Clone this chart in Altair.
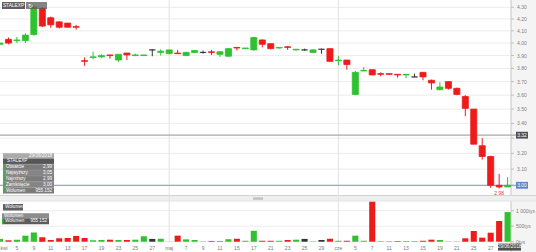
import altair as alt
import pandas as pd

# ------------------------------------------------------------------ data
ticker = "STALEXP"
last_date = "29/06/2018"

opens = [3.99, 4.03, 4.02, 4.02, 4.07, 4.29, 4.21, 4.175, 4.165, 4.135,
         3.86, 3.885, 3.89, 3.905, 3.865, 3.92, 3.90, 3.90, 3.945, 3.925,
         3.915, 3.92, 3.90, 3.925, 3.925, 3.93, 3.91, 3.895, 3.965, 3.955,
         3.945, 4.025, 3.995, 3.96, 3.97, 3.945, 3.945, 3.925, 3.95, 3.955,
         3.86, 3.865, 3.605, 3.78, 3.79, 3.76, 3.76, 3.755, 3.75, 3.735,
         3.77, 3.71, 3.64, 3.70, 3.65, 3.59, 3.50, 3.25, 3.18, 3.00, 2.99]
highs = [4.00, 4.045, 4.05, 4.08, 4.32, 4.30, 4.22, 4.18, 4.165, 4.15,
         3.885, 3.93, 3.91, 3.905, 3.91, 3.92, 3.915, 3.905, 3.95, 3.95,
         3.945, 3.945, 3.93, 3.945, 3.94, 3.945, 3.935, 3.96, 3.965, 3.96,
         4.05, 4.03, 3.995, 3.965, 3.975, 3.95, 3.955, 3.95, 3.955, 3.955,
         3.895, 3.865, 3.78, 3.81, 3.79, 3.77, 3.76, 3.755, 3.755, 3.76,
         3.77, 3.715, 3.695, 3.70, 3.655, 3.60, 3.50, 3.30, 3.185, 3.07, 3.05]
lows = [3.99, 3.99, 4.00, 4.00, 4.06, 4.13, 4.125, 4.12, 4.13, 4.11,
        3.82, 3.87, 3.88, 3.875, 3.85, 3.865, 3.895, 3.90, 3.895, 3.90,
        3.91, 3.915, 3.90, 3.92, 3.915, 3.905, 3.89, 3.89, 3.94, 3.955,
        3.94, 3.965, 3.95, 3.955, 3.945, 3.94, 3.94, 3.92, 3.915, 3.85,
        3.825, 3.79, 3.60, 3.78, 3.75, 3.74, 3.75, 3.73, 3.725, 3.735,
        3.71, 3.64, 3.635, 3.64, 3.60, 3.45, 3.26, 3.16, 2.985, 2.98, 2.99]
closes = [4.00, 4.00, 4.025, 4.065, 4.30, 4.14, 4.15, 4.13, 4.13, 4.13,
          3.855, 3.89, 3.90, 3.90, 3.91, 3.905, 3.905, 3.905, 3.945, 3.935,
          3.945, 3.915, 3.925, 3.94, 3.925, 3.925, 3.93, 3.955, 3.96, 3.96,
          4.045, 3.99, 3.955, 3.965, 3.965, 3.95, 3.945, 3.945, 3.95, 3.855,
          3.865, 3.83, 3.77, 3.785, 3.75, 3.755, 3.755, 3.75, 3.755, 3.735,
          3.735, 3.69, 3.66, 3.65, 3.605, 3.505, 3.26, 3.18, 3.00, 2.99, 3.00]
volumes = [90000, 45000, 65000, 195000, 300000, 140000, 55000, 110000, 120000, 185000,
           120000, 45000, 55000, 65000, 55000, 55000, 65000, 175000, 90000, 95000,
           5000, 195000, 75000, 55000, 5000, 25000, 25000, 80000, 95000, 30000,
           355000, 30000, 30000, 30000, 55000, 65000, 90000, 10000, 55000, 95000,
           30000, 30000, 195000, 30000, 1290000, 10000, 10000, 20000, 20000, 10000,
           30000, 65000, 55000, 5000, 5000, 110000, 345000, 130000, 290000, 668000, 955152]

x_label_idx = [0, 2, 4, 6, 8, 10, 12, 14, 16, 18, 20, 22, 24, 26, 28,
               30, 32, 34, 36, 38, 40, 42, 44, 46, 48, 50, 52, 54, 56, 58]
x_label_txt = ["kwi", "5", "9", "11", "13", "17", "19", "23", "25", "27",
               "maj", "7", "9", "11", "15", "17", "21", "23", "25", "29",
               "cze", "5", "7", "11", "13", "15", "19", "21", "25", "27"]
month_start_idx = [20, 40]
price_ticks = [3.00, 3.10, 3.20, 3.30, 3.40, 3.50, 3.60, 3.70, 3.80, 3.90,
               4.00, 4.10, 4.20, 4.30]
vol_ticks = [0, 500000, 1000000]
ref_price = 3.32
panel_names = ["Otwarcie", "Najwyższy", "Najniższy", "Zamknięcie", "Wolumen"]

# ------------------------------------------------------------------ layout / style
W, H = 536, 252
PX_PER_SESSION = 8.46
HALF_BODY = 0.36
STRIP_X = 511
PRICE_RANGE = [185.3, 7.3]   # pixel rows of 3.00 and 4.30
VOL_RANGE = [241.7, 210.7]   # pixel rows of 0 and 1 000 000
GREEN = "#2fc12f"
RED = "#ee1b1b"
DARK = "#333333"
GRID = "#ececec"
FONT = "Liberation Sans"
AX_TXT = "#808080"

n = len(opens)
df = pd.DataFrame({"i": list(range(n)), "o": opens, "h": highs, "l": lows,
                   "c": closes, "v": volumes})
df["dir"] = ["up" if c > o else ("down" if c < o else "flat")
             for o, c in zip(opens, closes)]
df["xl"] = df["i"] - HALF_BODY
df["xr"] = df["i"] + HALF_BODY
df["base"] = 0

xs = alt.Scale(domain=[0, W / PX_PER_SESSION], nice=False, zero=False)
ps = alt.Scale(type="log", domain=[3.0, 4.3], range=PRICE_RANGE, nice=False)
vs = alt.Scale(domain=[0, 1000000], range=VOL_RANGE, nice=False, zero=False)
cs = alt.Scale(domain=["up", "down", "flat"], range=[GREEN, RED, DARK])


def one():
    return pd.DataFrame({"k": [0]})


def box(x0, x1, y0, y1, fill, opacity=1.0, stroke=None):
    kw = dict(fill=fill, opacity=opacity)
    if stroke:
        kw["stroke"] = stroke
        kw["strokeWidth"] = 0.6
    return alt.Chart(one()).mark_rect(**kw).encode(
        x=alt.value(x0), x2=alt.value(x1), y=alt.value(y0), y2=alt.value(y1))


def label(x, y, text, size=5, color="white", align="left", weight="normal"):
    return alt.Chart(one()).mark_text(
        text=text, fontSize=size, color=color, align=align, baseline="middle",
        fontWeight=weight, font=FONT).encode(x=alt.value(x), y=alt.value(y))


def seg(x0, x1, y0, y1, color, w=1.0):
    return alt.Chart(one()).mark_rule(color=color, strokeWidth=w).encode(
        x=alt.value(x0), x2=alt.value(x1), y=alt.value(y0), y2=alt.value(y1))


layers = []

# right axis strip and pane separator
layers.append(box(STRIP_X, W, 0, H, "#f4f4f4"))
layers.append(seg(STRIP_X, STRIP_X, 0, H, "#c6c6c6"))
layers.append(box(0, W, 195.5, 201, "#efefef"))
layers.append(seg(0, W, 195.5, 195.5, "#d2d2d2"))
layers.append(seg(0, W, 201, 201, "#e2e2e2"))
layers.append(box(253, 263, 197.3, 199.8, "#c2c2c2"))

# price grid (labels hidden behind the price boxes are not drawn)
boxed = {round(ref_price, 1), round(closes[-1], 1)}
tick_df = pd.DataFrame({"p": price_ticks,
                        "t": [f"{p:.2f}" for p in price_ticks],
                        "show": [round(p, 1) not in boxed for p in price_ticks]})
layers.append(alt.Chart(tick_df).mark_rule(color=GRID, strokeWidth=1).encode(
    y=alt.Y("p:Q", scale=ps, axis=None), x=alt.value(0), x2=alt.value(STRIP_X)))
layers.append(alt.Chart(tick_df).mark_rule(color="#b0b0b0", strokeWidth=0.8).encode(
    y=alt.Y("p:Q", scale=ps, axis=None), x=alt.value(STRIP_X), x2=alt.value(STRIP_X + 3)))
layers.append(alt.Chart(tick_df[tick_df["show"]]).mark_text(
    fontSize=5, color=AX_TXT, align="left", baseline="middle", font=FONT).encode(
    y=alt.Y("p:Q", scale=ps, axis=None), x=alt.value(STRIP_X + 6), text="t:N"))

# volume grid
vt_df = pd.DataFrame({"v": vol_ticks,
                      "t": [f"{v // 1000:,}".replace(",", " ") + "tys" for v in vol_ticks]})
layers.append(alt.Chart(vt_df).mark_rule(color=GRID, strokeWidth=1).encode(
    y=alt.Y("v:Q", scale=vs, axis=None), x=alt.value(0), x2=alt.value(STRIP_X)))
layers.append(alt.Chart(vt_df).mark_rule(color="#b0b0b0", strokeWidth=0.8).encode(
    y=alt.Y("v:Q", scale=vs, axis=None), x=alt.value(STRIP_X), x2=alt.value(STRIP_X + 3)))
layers.append(alt.Chart(vt_df).mark_text(
    fontSize=5, color=AX_TXT, align="left", baseline="middle", font=FONT).encode(
    y=alt.Y("v:Q", scale=vs, axis=None), x=alt.value(STRIP_X + 5), text="t:N"))

# month separators
m_df = pd.DataFrame({"m": month_start_idx})
layers.append(alt.Chart(m_df).mark_rule(color="#e2e2e2", strokeWidth=1).encode(
    x=alt.X("m:Q", scale=xs, axis=None), y=alt.value(0), y2=alt.value(242)))

# reference and last-price lines
ref_df = pd.DataFrame({"p": [ref_price, closes[-1]],
                       "t": [f"{ref_price:.2f}", f"{closes[-1]:.2f}"],
                       "col": ["#a8a8a8", "#9aaac2"],
                       "box": ["#4f4f4f", "#5f86c2"]})
layers.append(alt.Chart(ref_df).mark_rule(strokeWidth=1.2).encode(
    y=alt.Y("p:Q", scale=ps, axis=None), x=alt.value(0), x2=alt.value(STRIP_X + 5),
    color=alt.Color("col:N", scale=None, legend=None)))

# volume bars
layers.append(alt.Chart(df).mark_rect().encode(
    x=alt.X("xl:Q", scale=xs, axis=None), x2="xr:Q",
    y=alt.Y("base:Q", scale=vs, axis=None), y2="v:Q",
    color=alt.Color("dir:N", scale=cs, legend=None)))

# candles
layers.append(alt.Chart(df).mark_rule(strokeWidth=1).encode(
    x=alt.X("i:Q", scale=xs, axis=None),
    y=alt.Y("l:Q", scale=ps, axis=None), y2="h:Q",
    color=alt.Color("dir:N", scale=cs, legend=None)))
layers.append(alt.Chart(df).mark_rect(strokeWidth=0.8).encode(
    x=alt.X("xl:Q", scale=xs, axis=None), x2="xr:Q",
    y=alt.Y("o:Q", scale=ps, axis=None), y2="c:Q",
    color=alt.Color("dir:N", scale=cs, legend=None),
    stroke=alt.Stroke("dir:N", scale=cs, legend=None)))

# minimum low label
imin = lows.index(min(lows))
min_df = pd.DataFrame({"i": [imin], "p": [lows[imin]], "t": [f"{lows[imin]:.2f}"]})
layers.append(alt.Chart(min_df).mark_text(
    fontSize=5, color="#e03a3a", align="center", baseline="top", dy=2, font=FONT).encode(
    x=alt.X("i:Q", scale=xs, axis=None), y=alt.Y("p:Q", scale=ps, axis=None), text="t:N"))

# price boxes on the axis
layers.append(alt.Chart(ref_df).mark_rect(yOffset=-3.4, y2Offset=3.4).encode(
    y=alt.Y("p:Q", scale=ps, axis=None), y2="p:Q",
    x=alt.value(STRIP_X + 5), x2=alt.value(STRIP_X + 17),
    color=alt.Color("box:N", scale=None, legend=None)))
layers.append(alt.Chart(ref_df).mark_text(
    fontSize=5, color="white", align="center", baseline="middle", font=FONT).encode(
    y=alt.Y("p:Q", scale=ps, axis=None), x=alt.value(STRIP_X + 11), text="t:N"))

# x labels (the first one starts at the left edge)
xl_df = pd.DataFrame({"i": x_label_idx, "t": x_label_txt,
                      "first": [k == 0 for k in range(len(x_label_idx))]})
layers.append(alt.Chart(xl_df[~xl_df["first"]]).mark_text(
    fontSize=5, color="#777777", align="center", baseline="middle", font=FONT).encode(
    x=alt.X("i:Q", scale=xs, axis=None), y=alt.value(247.5), text="t:N"))
layers.append(alt.Chart(xl_df[xl_df["first"]]).mark_text(
    fontSize=5, color="#777777", align="left", baseline="middle", font=FONT, dx=0.5).encode(
    x=alt.X("i:Q", scale=xs, axis=None), y=alt.value(247.5), text="t:N"))
layers.append(box(498, 521, 243.6, 250.6, "#4f4f4f"))
layers.append(label(509.5, 247.2, last_date, size=4.8, align="center"))

# top-left ticker tag
layers.append(box(2, 25, 2, 9, "#5f5f5f"))
layers.append(label(13.5, 5.6, ticker, size=4.8, align="center"))
layers.append(box(26, 47, 2, 9, "#555555", opacity=0.72))
layers.append(label(30, 5.6, "↻", size=6, align="center"))


def fmt(v):
    return f"{v:.2f}".replace(".", ",")


# data panel (last session)
last_vals = [fmt(opens[-1]), fmt(highs[-1]), fmt(lows[-1]), fmt(closes[-1]),
             f"{volumes[-1]:,}".replace(",", " ")]
PX0, PX1 = 3, 54
layers.append(box(PX0, PX1, 153.2, 158.4, "#a2a2a2", opacity=0.9))
layers.append(label(PX1 - 2, 155.9, last_date, size=4.6, align="right"))
layers.append(box(PX0, PX1, 158.4, 164.2, "#565656"))
layers.append(label(PX0 + 4, 161.3, ticker, size=4.6))
row_h = 5.85
for k, (nm, val) in enumerate(zip(panel_names, last_vals)):
    y0 = 164.2 + k * row_h
    layers.append(box(PX0, PX1, y0, y0 + row_h, "#7b7b7b" if k % 2 == 0 else "#858585"))
    layers.append(seg(PX0, PX1, y0, y0, "#9a9a9a", 0.5))
    layers.append(label(PX0 + 3, y0 + row_h / 2, nm, size=4.6))
    layers.append(label(PX1 - 2, y0 + row_h / 2, val, size=4.6, align="right"))
layers.append(seg(PX0 + 0.7, PX0 + 0.7, 164.2, 164.2 + 5 * row_h, GREEN, 1.5))

# volume legend
layers.append(box(3, 23, 204, 210.5, "#606060"))
layers.append(label(5, 207.3, "Wolumen", size=4.6))
layers.append(box(2, 49, 213.2, 218.2, "#8c8c8c"))
layers.append(label(4, 215.8, "Wolumen", size=4.6))
layers.append(box(2, 49, 218.2, 224.3, "#5c5c5c"))
layers.append(label(5, 221.3, "Wolumen", size=4.6))
layers.append(label(47, 221.3, last_vals[-1], size=4.6, align="right"))
layers.append(seg(2.7, 2.7, 218.2, 224.3, GREEN, 1.4))

chart = (
    alt.layer(*layers)
    .resolve_scale(y="independent")
    .properties(width=W, height=H, padding=0, background="white",
                autosize=alt.AutoSizeParams(type="none"))
    .configure_view(strokeWidth=0)
)

chart.save("out.html", embed_options={"renderer": "svg", "actions": False})
